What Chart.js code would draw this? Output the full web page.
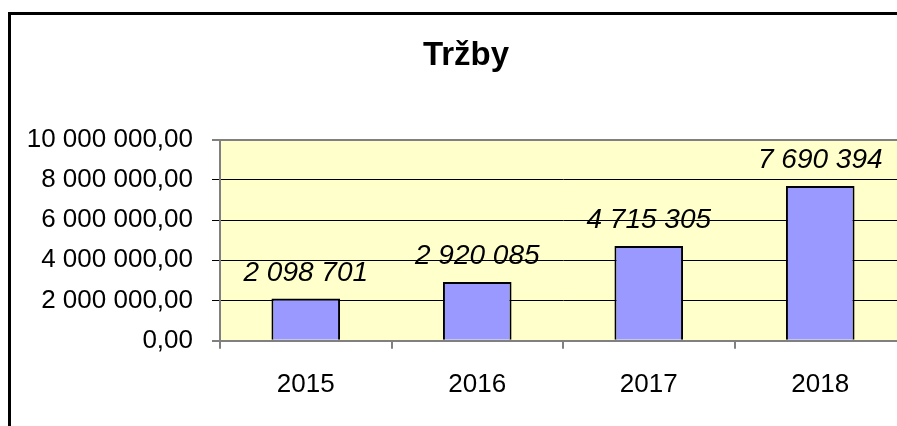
<!DOCTYPE html>
<html>
<head>
<meta charset="utf-8">
<script src="https://cdn.jsdelivr.net/npm/chart.js@4.4.1/dist/chart.umd.min.js"></script>
<style>
  html, body { margin: 0; padding: 0; background: #fff; overflow: hidden; }
  #wrap { width: 932px; height: 426px; }
</style>
</head>
<body>
<div id="wrap"><canvas id="trzby" width="932" height="426"></canvas></div>
<script>
const years = ["2015", "2016", "2017", "2018"];
const revenue = [2098701, 2920085, 4715305, 7690394];
const yMax = 10000000;
const yStep = 2000000;

const FONT = "'Liberation Sans', Arial, sans-serif";

function groupDigits(s) {
  return s.replace(/\B(?=(\d{3})+(?!\d))/g, " ");
}

function fmtAxis(v) {
  const parts = v.toFixed(2).split(".");
  return groupDigits(parts[0]) + "," + parts[1];
}

// light yellow plot area + outer frame of the chart (only left/top edges are in view)
const backdrop = {
  id: "backdrop",
  beforeDraw(chart) {
    const { ctx, chartArea: a } = chart;
    ctx.save();
    ctx.fillStyle = "#FFFFCC";
    ctx.fillRect(a.left, a.top, a.right - a.left, a.bottom - a.top);
    ctx.strokeStyle = "#000";
    ctx.lineWidth = 3;
    ctx.beginPath();
    ctx.moveTo(9.5, chart.height + 5);
    ctx.lineTo(9.5, 13.5);
    ctx.lineTo(chart.width + 5, 13.5);
    ctx.stroke();
    ctx.restore();
  },
};

// italic value labels above each bar
const valueLabels = {
  id: "valueLabels",
  afterDatasetsDraw(chart) {
    const { ctx } = chart;
    const meta = chart.getDatasetMeta(0);
    ctx.save();
    ctx.font = "italic 28px " + FONT;
    ctx.fillStyle = "#000";
    ctx.textAlign = "center";
    ctx.textBaseline = "alphabetic";
    meta.data.forEach(function (bar, i) {
      ctx.fillText(groupDigits(String(revenue[i])), bar.x, bar.y - 18);
    });
    ctx.restore();
  },
};

const ctx = document.getElementById("trzby").getContext("2d");

new Chart(ctx, {
  type: "bar",
  data: {
    labels: years,
    datasets: [
      {
        label: "Tržby",
        data: revenue,
        backgroundColor: "#9999FF",
        borderColor: "#000000",
        borderWidth: 2,
        borderSkipped: "bottom",
        categoryPercentage: 1,
        barPercentage: 0.4,
      },
    ],
  },
  options: {
    responsive: false,
    animation: false,
    layout: { padding: { left: 26, right: 26, top: 0, bottom: 6 } },
    plugins: {
      legend: { display: false },
      tooltip: { enabled: false },
      title: {
        display: true,
        text: "Tržby",
        color: "#000",
        font: { family: FONT, size: 33, weight: "bold", lineHeight: 1.2 },
        padding: { top: 36, bottom: 64 },
      },
    },
    scales: {
      x: {
        grid: {
          offset: true,
          drawOnChartArea: false,
          color: "#808080",
          tickLength: 8,
          lineWidth: 2,
        },
        border: { color: "#808080", width: 2 },
        ticks: {
          color: "#000",
          padding: 20,
          font: { family: FONT, size: 26 },
        },
      },
      y: {
        min: 0,
        max: yMax,
        afterFit(scale) {
          scale.width = 194;
        },
        grid: {
          color: function (c) {
            return c.tick && (c.tick.value === 0 || c.tick.value === yMax) ? "#808080" : "#000000";
          },
          lineWidth: function (c) {
            return c.tick && (c.tick.value === 0 || c.tick.value === yMax) ? 2 : 1;
          },
          tickColor: "#000000",
          tickWidth: 1,
          tickLength: 8,
        },
        border: { color: "#808080", width: 2 },
        ticks: {
          stepSize: yStep,
          color: "#000",
          padding: 19,
          font: { family: FONT, size: 26 },
          callback: function (value) {
            return fmtAxis(value);
          },
        },
      },
    },
  },
  plugins: [backdrop, valueLabels],
});
</script>
</body>
</html>
